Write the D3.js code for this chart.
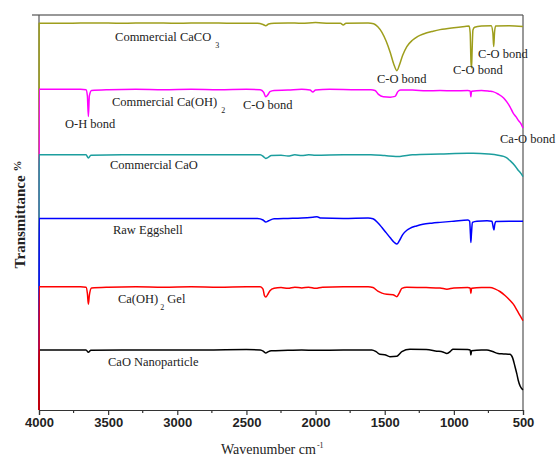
<!DOCTYPE html>
<html>
<head>
<meta charset="utf-8">
<script src="https://cdn.jsdelivr.net/npm/d3@7"></script>
<style>
  html, body { margin: 0; padding: 0; background: #fff; }
  svg { display: block; }
</style>
</head>
<body>
<div id="chart"></div>
<script>
// FTIR spectra, values (arbitrary transmittance units, offset per trace)
const caco3 = [
  [4000, 0], [3999, 97.9], [3800, 97.9], [3600, 98.0], [3400, 97.9], [3200, 98.0], [3000, 97.9],
  [2800, 98.0], [2600, 97.9], [2420, 97.9], [2380, 97.6], [2360, 97.3], [2340, 97.7], [2300, 97.9],
  [2200, 98.0], [2100, 97.9], [2000, 98.1], [1900, 97.9], [1820, 97.9], [1800, 97.5], [1780, 97.9],
  [1620, 98.0], [1580, 97.8], [1550, 97.0], [1520, 95.6], [1490, 93.4], [1460, 90.5], [1435, 87.6],
  [1412, 85.9], [1395, 87.2], [1370, 89.8], [1340, 92.0], [1300, 93.6], [1260, 94.6], [1220, 95.2],
  [1150, 95.9], [1100, 96.3], [1000, 96.8], [920, 97.1], [890, 97.2], [882, 95.5], [876, 88],
  [872, 86.6], [868, 91], [862, 96.2], [850, 96.9], [800, 97.2], [730, 97.3], [718, 95.5],
  [712, 92.0], [706, 95.5], [698, 97.2], [600, 97.3], [500, 97.1]
];
const caoh2 = [
  [4000, 0], [3999, 81.2], [3800, 81.2], [3700, 81.2], [3660, 81.1], [3650, 79.5], [3643, 74.3],
  [3636, 79.5], [3620, 80.9], [3500, 81.1], [3300, 81.2], [3100, 81.1], [2900, 81.2], [2700, 81.1],
  [2500, 81.2], [2400, 81.1], [2375, 80.4], [2360, 79.3], [2345, 79.8], [2330, 80.6], [2300, 80.9],
  [2200, 81.0], [2100, 81.2], [2040, 81.0], [2020, 80.5], [2000, 81.0], [1900, 81.2], [1700, 81.1],
  [1600, 81.1], [1570, 80.9], [1545, 79.9], [1510, 79.3], [1460, 79.2], [1425, 79.4], [1405, 80.6],
  [1385, 81.0], [1300, 81.0], [1200, 80.8], [1100, 80.9], [1000, 80.8], [900, 80.9], [882, 80.8],
  [877, 79.3], [872, 80.7], [800, 80.9], [740, 80.7], [718, 80.6], [680, 80.0], [640, 79.0],
  [617, 78.0], [595, 76.8], [573, 75.3], [550, 74.2], [535, 73.4], [515, 72.5], [500, 71.4]
];
const caoCommercial = [
  [4000, 0], [3999, 64.6], [3800, 64.6], [3660, 64.6], [3643, 63.8], [3625, 64.5], [3400, 64.6],
  [3100, 64.6], [2800, 64.6], [2500, 64.6], [2400, 64.6], [2375, 64.1], [2360, 63.7], [2345, 63.9],
  [2320, 64.4], [2250, 64.5], [2200, 64.3], [2150, 64.6], [2100, 64.4], [2050, 64.6], [2000, 64.5],
  [1800, 64.6], [1600, 64.6], [1500, 64.4], [1420, 64.2], [1390, 64.2], [1300, 64.6], [1100, 64.8],
  [900, 65.0], [860, 65.0], [750, 64.8], [680, 64.5], [640, 64.2], [617, 63.8], [590, 63.0],
  [560, 61.9], [535, 60.7], [515, 59.9], [500, 59.1]
];
const eggshell = [
  [4000, 0], [3999, 48.5], [3800, 48.5], [3600, 48.5], [3400, 48.5], [3200, 48.5], [3000, 48.5],
  [2800, 48.5], [2600, 48.5], [2420, 48.5], [2380, 48.1], [2360, 47.6], [2340, 47.9], [2300, 48.4],
  [2200, 48.5], [2100, 48.6], [2020, 48.8], [1990, 48.9], [1960, 48.6], [1800, 48.5], [1620, 48.6],
  [1585, 48.4], [1550, 47.4], [1520, 46.2], [1490, 44.9], [1460, 43.6], [1430, 42.4], [1412, 42.0],
  [1395, 42.8], [1370, 44.4], [1340, 45.5], [1318, 46.0], [1270, 46.6], [1224, 47.0], [1160, 47.3],
  [1100, 47.5], [1000, 47.8], [898, 48.1], [886, 47.8], [880, 44.5], [877, 42.4], [873, 44.5],
  [866, 47.5], [833, 47.8], [760, 47.9], [725, 47.8], [715, 46.2], [710, 45.6], [705, 46.8],
  [695, 47.7], [600, 47.8], [500, 47.8]
];
const caoh2Gel = [
  [4000, 0], [3999, 31.2], [3800, 31.2], [3700, 31.2], [3660, 31.1], [3650, 29.5], [3643, 26.8],
  [3636, 29.0], [3620, 30.9], [3500, 31.1], [3300, 31.2], [3100, 31.1], [2900, 31.2], [2700, 31.1],
  [2500, 31.2], [2400, 31.2], [2380, 30.6], [2370, 29.0], [2360, 28.6], [2345, 29.3], [2330, 30.2],
  [2300, 30.8], [2250, 31.0], [2200, 30.8], [2150, 31.1], [2100, 30.9], [2050, 31.1], [2000, 30.8],
  [1950, 31.1], [1800, 31.2], [1620, 31.2], [1585, 31.0], [1550, 30.1], [1520, 29.6], [1484, 29.3],
  [1440, 29.2], [1412, 28.7], [1395, 29.6], [1376, 30.8], [1340, 31.1], [1200, 31.0], [1100, 30.9],
  [1050, 30.6], [1000, 30.9], [900, 31.0], [882, 30.9], [877, 29.5], [872, 30.8], [800, 31.0],
  [739, 31.0], [700, 30.6], [667, 30.0], [630, 29.0], [595, 27.8], [570, 26.8], [544, 25.3],
  [520, 23.8], [500, 22.6]
];
const caoNano = [
  [4000, 0], [3999, 15.2], [3800, 15.2], [3660, 15.2], [3643, 14.6], [3625, 15.1], [3400, 15.2],
  [3100, 15.2], [2800, 15.2], [2500, 15.3], [2400, 15.2], [2375, 14.8], [2360, 14.4], [2345, 14.7],
  [2320, 15.0], [2200, 15.1], [2100, 15.2], [2000, 15.1], [1800, 15.2], [1593, 15.2], [1560, 14.7],
  [1535, 14.1], [1500, 14.0], [1462, 13.5], [1412, 13.6], [1390, 14.3], [1376, 14.8], [1318, 15.4],
  [1200, 15.3], [1123, 14.9], [1080, 14.7], [1050, 14.3], [1020, 15.0], [1007, 15.4], [900, 15.3],
  [882, 15.2], [877, 13.9], [872, 15.0], [800, 15.2], [761, 15.2], [720, 14.8], [681, 14.3],
  [640, 14.2], [595, 14.1], [575, 13.2], [558, 11.0], [545, 9.2], [535, 7.6], [520, 6.0], [500, 5.1]
];

const seriesNames = ['Commercial CaCO3', 'Commercial Ca(OH)2', 'Commercial CaO', 'Raw Eggshell', 'CaO Nanoparticle', 'Ca(OH)2 Gel'];
const seriesData = [caco3, caoh2, caoCommercial, eggshell, caoNano, caoh2Gel];
const seriesColors = ['#9e9e1c', '#ff00ff', '#1c9e9e', '#0000ff', '#000000', '#ff0000'];

const majorTicks = [4000, 3500, 3000, 2500, 2000, 1500, 1000, 500];
const minorTicks = [3750, 3250, 2750, 2250, 1750, 1250, 750];

// annotation text: [wavenumber, transmittance] anchor of the left end of the text baseline
const annotations = [
  { text: 'Commercial CaCO', sub: '3', w: 3450, t: 93.5 },
  { text: 'Commercial Ca(OH)', sub: '2', w: 3472, t: 77.0 },
  { text: 'C-O bond', w: 2525, t: 76.2 },
  { text: 'O-H bond', w: 3812, t: 71.5 },
  { text: 'Commercial CaO', w: 3487, t: 61.0 },
  { text: 'C-O bond', w: 1556, t: 82.8 },
  { text: 'C-O bond', w: 1006, t: 85.1 },
  { text: 'C-O bond', w: 825, t: 89.1 },
  { text: 'Ca-O bond', w: 666, t: 67.6 },
  { text: 'Raw Eggshell', w: 3465, t: 44.6 },
  { text: 'Ca(OH)', sub: '2', after: ' Gel', w: 3429, t: 27.1 },
  { text: 'CaO Nanoparticle', w: 3501, t: 11.2 }
];

const width = 559, height = 461;
const margin = { top: 15, right: 36, bottom: 51, left: 39 };

const svg = d3.select('#chart').append('svg')
  .attr('width', width)
  .attr('height', height);

const x = d3.scaleLinear().domain([4000, 500]).range([margin.left, width - margin.right]);
const y = d3.scaleLinear().domain([0, 100]).range([height - margin.bottom, margin.top]);

const serif = '"Liberation Serif", "Times New Roman", serif';

// frame
svg.append('line')
  .attr('x1', margin.left - 7).attr('x2', x(500))
  .attr('y1', y(100)).attr('y2', y(100))
  .attr('stroke', '#333').attr('stroke-width', 1.2);
svg.append('line')
  .attr('x1', x(500)).attr('x2', x(500))
  .attr('y1', y(100)).attr('y2', y(0))
  .attr('stroke', '#555').attr('stroke-width', 1.2);
svg.append('line')
  .attr('x1', x(4000)).attr('x2', x(4000))
  .attr('y1', y(100)).attr('y2', y(0))
  .attr('stroke', '#555').attr('stroke-width', 1.2);

// bottom axis
const xAxis = svg.append('g')
  .attr('transform', `translate(0,${y(0)})`)
  .call(d3.axisBottom(x).tickValues(majorTicks).tickSize(5).tickPadding(3).tickFormat(d3.format('d')));
xAxis.select('.domain').attr('stroke', '#333').attr('stroke-width', 1.2);
xAxis.selectAll('.tick line').attr('stroke', '#333').attr('stroke-width', 1.2);
xAxis.selectAll('.tick text')
  .attr('font-family', '"Liberation Sans", Arial, sans-serif')
  .attr('font-weight', 'bold')
  .attr('font-size', 13)
  .attr('fill', '#222');

svg.append('g')
  .attr('transform', `translate(0,${y(0)})`)
  .selectAll('line')
  .data(minorTicks)
  .join('line')
  .attr('x1', d => x(d)).attr('x2', d => x(d))
  .attr('y1', 0).attr('y2', 3)
  .attr('stroke', '#333').attr('stroke-width', 1.2);

// traces
const line = d3.line()
  .x(d => x(d[0]))
  .y(d => y(d[1]))
  .curve(d3.curveMonotoneX);

svg.append('g')
  .selectAll('path')
  .data(seriesData)
  .join('path')
  .attr('d', line)
  .attr('fill', 'none')
  .attr('stroke', (d, i) => seriesColors[i])
  .attr('stroke-width', 1.5)
  .attr('stroke-linejoin', 'round');

// annotations
const notes = svg.append('g')
  .attr('font-family', serif)
  .attr('font-size', 12.5)
  .attr('fill', '#222');

annotations.forEach(a => {
  const t = notes.append('text')
    .attr('x', x(a.w))
    .attr('y', y(a.t));
  t.append('tspan').text(a.text);
  if (a.sub) {
    t.append('tspan')
      .attr('dx', a.after ? 2 : 4)
      .attr('dy', 7)
      .attr('font-size', 8)
      .text(a.sub);
  }
  if (a.after) {
    t.append('tspan')
      .attr('dy', -7)
      .text(a.after);
  }
});

// axis titles
const yTitle = svg.append('text')
  .attr('transform', `translate(25,${(y(0) + y(100)) / 2 + 2}) rotate(-90)`)
  .attr('text-anchor', 'middle')
  .attr('font-family', serif)
  .attr('font-weight', 'bold')
  .attr('font-size', 15)
  .attr('fill', '#222');
yTitle.append('tspan').text('Transmittance ');
yTitle.append('tspan').attr('font-size', 11).attr('dy', -4).text('%');

const xTitle = svg.append('text')
  .attr('x', 221)
  .attr('y', 454)
  .attr('font-family', serif)
  .attr('font-size', 14)
  .attr('fill', '#222');
xTitle.append('tspan').text('Wavenumber cm');
xTitle.append('tspan').attr('font-size', 8).attr('dy', -6).attr('dx', 1).text('-1');
</script>
</body>
</html>
